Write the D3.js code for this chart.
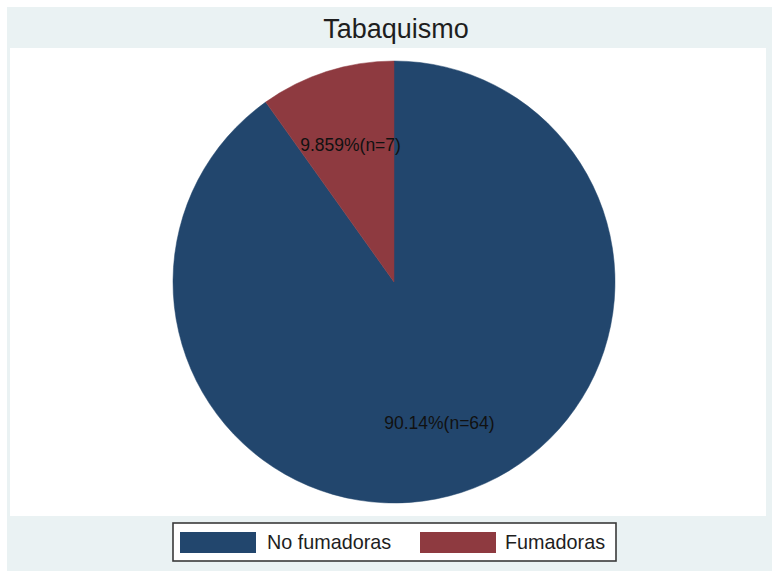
<!DOCTYPE html>
<html>
<head>
<meta charset="utf-8">
<script src="https://cdn.jsdelivr.net/npm/d3@7/dist/d3.min.js"></script>
<style>
  html, body { margin: 0; padding: 0; background: #ffffff; }
  svg { display: block; }
</style>
</head>
<body>
<svg id="chart" width="772" height="571"></svg>
<script>
// ---- data ----
const categories = ["No fumadoras", "Fumadoras"];
const counts = [64, 7];
const pctLabels = ["90.14%", "9.859%"];
const colors = ["#22466d", "#8e3a40"];
const title = "Tabaquismo";

const svg = d3.select("#chart");
const W = 772, H = 571;

// outer background
svg.append("rect").attr("x", 7).attr("y", 7).attr("width", W - 7).attr("height", H - 7)
  .attr("fill", "#eaf2f3");
// plot region
svg.append("rect").attr("x", 10).attr("y", 48).attr("width", 756).attr("height", 468)
  .attr("fill", "#ffffff");

// title
svg.append("text").attr("x", 396).attr("y", 38).attr("text-anchor", "middle")
  .attr("font-family", "Liberation Sans, Arial, sans-serif").attr("font-size", 27)
  .attr("fill", "#1e1e1e").text(title);

// pie
const cx = 394, cy = 282, r = 221;
const data = categories.map((c, i) => ({ cat: c, n: counts[i], pct: pctLabels[i], col: colors[i] }));
const pie = d3.pie().sort(null).value(d => d.n);
const arcs = pie(data);
const arc = d3.arc().innerRadius(0).outerRadius(r);
const labelArc = d3.arc().innerRadius(r * 0.66).outerRadius(r * 0.66);

const g = svg.append("g").attr("transform", `translate(${cx},${cy})`);
g.selectAll("path.slice").data(arcs).enter().append("path")
  .attr("class", "slice")
  .attr("d", arc)
  .attr("fill", d => d.data.col)
  .attr("stroke", d => d.data.col)
  .attr("stroke-width", 0.5);

g.selectAll("text.lab").data(arcs).enter().append("text")
  .attr("class", "lab")
  .attr("transform", d => { const c = labelArc.centroid(d); return `translate(${c[0] + 1},${c[1] + 2})`; })
  .attr("text-anchor", "middle")
  .attr("dominant-baseline", "central")
  .attr("font-family", "Liberation Sans, Arial, sans-serif")
  .attr("font-size", 17.5)
  .attr("fill", "#111111")
  .text(d => `${d.data.pct}(n=${d.data.n})`);

// legend
const legX = 173, legY = 523, legW = 443, legH = 38;
svg.append("rect").attr("x", legX).attr("y", legY).attr("width", legW).attr("height", legH)
  .attr("fill", "#ffffff").attr("stroke", "#3a3a3a").attr("stroke-width", 1.6);

const legItems = [
  { sx: 180, tx: 267 },
  { sx: 420, tx: 505 }
];
const legendG = svg.append("g");
const items = legendG.selectAll("g.item").data(data).enter().append("g").attr("class", "item");
items.append("rect")
  .attr("x", (d, i) => legItems[i].sx).attr("y", 532)
  .attr("width", 76).attr("height", 21)
  .attr("fill", d => d.col);
items.append("text")
  .attr("x", (d, i) => legItems[i].tx).attr("y", 549)
  .attr("font-family", "Liberation Sans, Arial, sans-serif").attr("font-size", 19.8)
  .attr("fill", "#1e1e1e")
  .text(d => d.cat);
</script>
</body>
</html>
